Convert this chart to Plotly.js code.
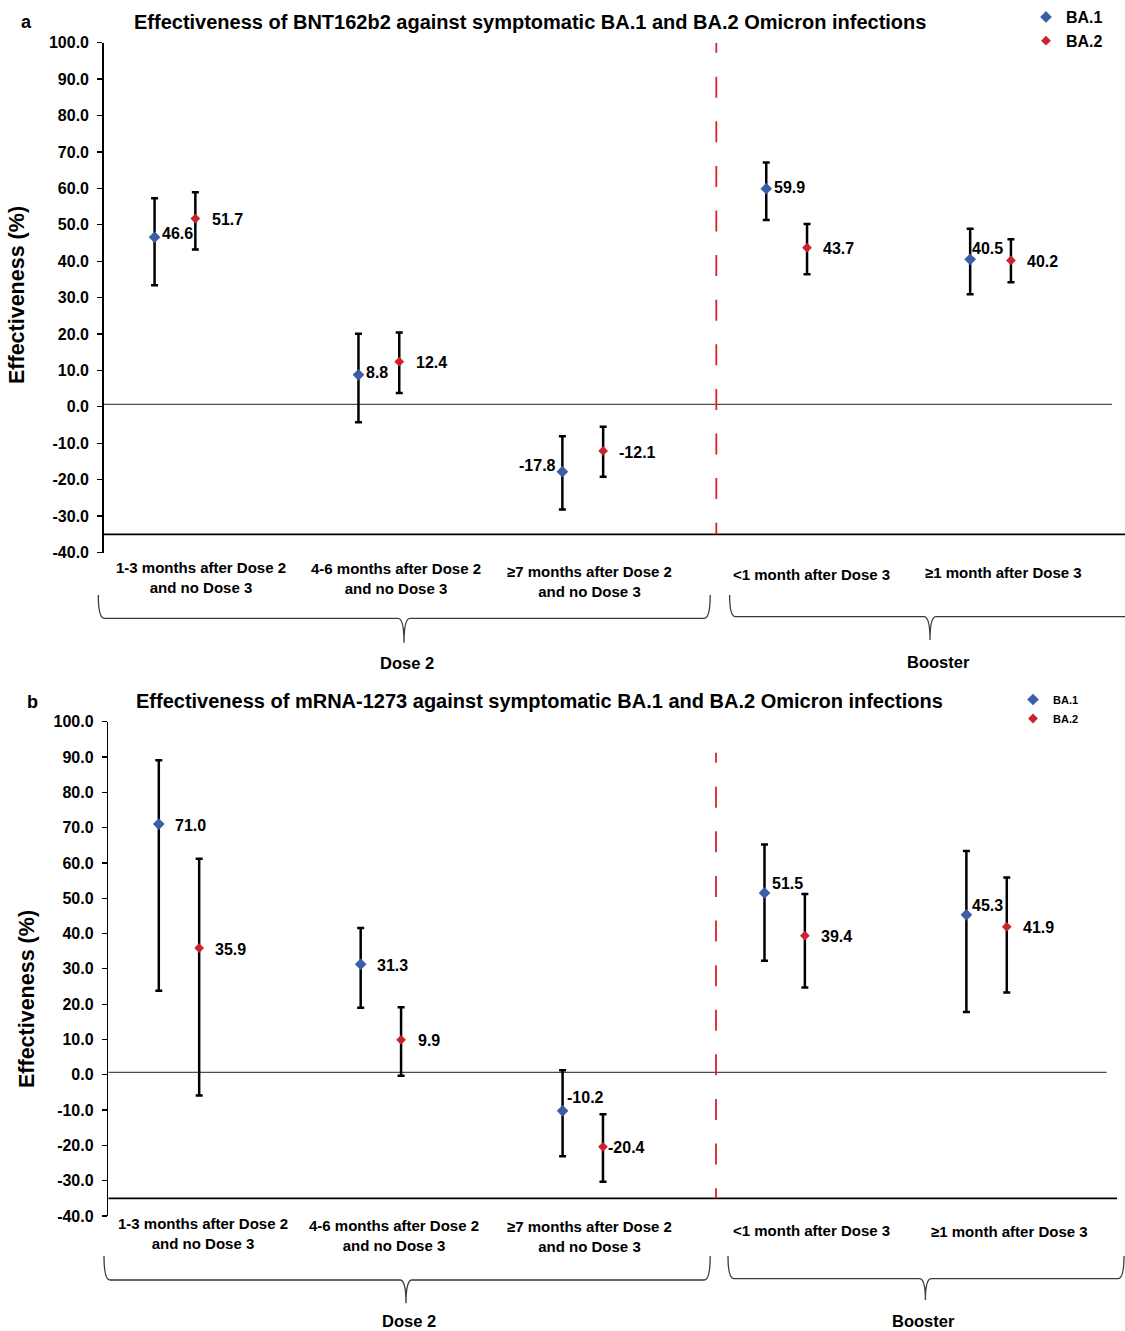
<!DOCTYPE html>
<html>
<head>
<meta charset="utf-8">
<script src="https://cdn.plot.ly/plotly-3.0.1.min.js"></script>
<style>html,body{margin:0;padding:0;background:#fff;}#chart{width:1125px;height:1331px;}</style>
</head>
<body>
<div id="chart"></div>
<script>
// ---------- data ----------
const categories = [
  '1-3 months after Dose 2<br>and no Dose 3',
  '4-6 months after Dose 2<br>and no Dose 3',
  '≥7 months after Dose 2<br>and no Dose 3',
  '&lt;1 month after Dose 3',
  '≥1 month after Dose 3'
];
const groupLabels = ['Dose 2', 'Booster'];
const seriesNames = ['BA.1', 'BA.2'];
const titleA = 'Effectiveness of BNT162b2 against symptomatic BA.1 and BA.2 Omicron infections';
const titleB = 'Effectiveness of mRNA-1273 against symptomatic BA.1 and BA.2 Omicron infections';
const yTitle = 'Effectiveness (%)';
const yTickVals = [-40, -30, -20, -10, 0, 10, 20, 30, 40, 50, 60, 70, 80, 90, 100];

// Panel a (BNT162b2)
const a_ba1 = [46.6, 8.8, -17.8, 59.9, 40.5];
const a_ba1_lo = [33.4, -4.2, -28.2, 51.3, 30.9];
const a_ba1_hi = [57.3, 20.1, -8.1, 67.1, 48.9];
const a_ba2 = [51.7, 12.4, -12.1, 43.7, 40.2];
const a_ba2_lo = [43.2, 3.8, -19.2, 36.4, 34.2];
const a_ba2_hi = [58.9, 20.4, -5.5, 50.2, 46.0];

// Panel b (mRNA-1273)
const b_ba1 = [71.0, 31.3, -10.2, 51.5, 45.3];
const b_ba1_lo = [23.8, 19.0, -23.1, 32.3, 17.8];
const b_ba1_hi = [89.1, 41.6, 1.3, 65.2, 63.4];
const b_ba2 = [35.9, 9.9, -20.4, 39.4, 41.9];
const b_ba2_lo = [-5.9, -0.3, -30.3, 24.7, 23.3];
const b_ba2_hi = [61.2, 19.1, -11.2, 51.2, 55.9];

// ---------- styling / layout constants ----------
const W = 1125, H = 1331;
const FONT = 'Liberation Sans, Arial, Helvetica, sans-serif';
const BLUE = '#3A5FA8', RED = '#CC2229';
const px = v => v / W;
const py = v => 1 - v / H;
const idx = categories.map((c, i) => i);
const OFF = 0.1;

function errY(val, lo, hi) {
  return {
    type: 'data', symmetric: false,
    array: hi.map((h, i) => +(h - val[i]).toFixed(2)),
    arrayminus: lo.map((l, i) => +(val[i] - l).toFixed(2)),
    color: '#000', thickness: 2.5, width: 3.5
  };
}
function trace(name, vals, lo, hi, shift, color, size, xa, ya, leg) {
  return {
    type: 'scatter', mode: 'markers', name: name,
    x: idx.map(i => i + shift), y: vals,
    xaxis: xa, yaxis: ya, legend: leg,
    marker: {symbol: 'diamond', size: size, color: color},
    error_y: errY(vals, lo, hi), cliponaxis: false, hoverinfo: 'skip'
  };
}
const data = [
  trace(seriesNames[0], a_ba1, a_ba1_lo, a_ba1_hi, -OFF, BLUE, 9, 'x', 'y', 'legend'),
  trace(seriesNames[1], a_ba2, a_ba2_lo, a_ba2_hi, OFF, RED, 7.5, 'x', 'y', 'legend'),
  trace(seriesNames[0], b_ba1, b_ba1_lo, b_ba1_hi, -OFF, BLUE, 9, 'x2', 'y2', 'legend2'),
  trace(seriesNames[1], b_ba2, b_ba2_lo, b_ba2_hi, OFF, RED, 7.5, 'x2', 'y2', 'legend2')
];

// label offsets (pixels): [dx, dy, anchor]
const offA1 = [[6,4,'left'],[7,2,'left'],[-5,6,'right'],[7,1,'left'],[1,11,'left']];
const offA2 = [[16,-1,'left'],[16,-1,'left'],[15,-2,'left'],[15,-1,'left'],[15,-1,'left']];
const offB1 = [[15,-1,'left'],[15,-1,'left'],[3,13,'left'],[7,9,'left'],[5,9,'left']];
const offB2 = [[15,-1,'left'],[16,-1,'left'],[4,-1,'left'],[15,-1,'left'],[15,-1,'left']];

const annotations = [];
function valueLabels(vals, shift, offs, xr, yr) {
  vals.forEach((v, i) => {
    const o = offs[i];
    annotations.push({
      x: i + shift, y: v, xref: xr, yref: yr, text: v.toFixed(1), showarrow: false,
      xanchor: o[2], yanchor: 'middle', xshift: o[2] === 'left' ? o[0] - 1 : o[0] + 1, yshift: o[1],
      font: {family: FONT, size: 16, color: '#000', weight: 'bold'}
    });
  });
}
valueLabels(a_ba1, -OFF, offA1, 'x', 'y');
valueLabels(a_ba2, OFF, offA2, 'x', 'y');
valueLabels(b_ba1, -OFF, offB1, 'x2', 'y2');
valueLabels(b_ba2, OFF, offB2, 'x2', 'y2');

// category labels
const catShiftA = [26, 17.5, 7, 25, 13.4], catYA = [577.7, 578.8, 581.2, 574.3, 572.7];
const catShiftB = [23.7, 13.6, 6.6, 27, 23.4], catYB = [1233.8, 1235.2, 1236.7, 1230, 1231];
categories.forEach((c, i) => {
  annotations.push({x: i, xref: 'x', xshift: catShiftA[i], y: py(catYA[i]), yref: 'paper', text: c,
    showarrow: false, xanchor: 'center', yanchor: 'middle', align: 'center',
    font: {family: FONT, size: 15, color: '#000', weight: 'bold'}});
  annotations.push({x: i, xref: 'x2', xshift: catShiftB[i], y: py(catYB[i]), yref: 'paper', text: c,
    showarrow: false, xanchor: 'center', yanchor: 'middle', align: 'center',
    font: {family: FONT, size: 15, color: '#000', weight: 'bold'}});
});

// group labels under braces
const grpPos = [[407, 663.3], [938, 662.3], [409, 1321], [923.3, 1321]];
grpPos.forEach((p, k) => {
  annotations.push({x: px(p[0]), y: py(p[1]), xref: 'paper', yref: 'paper', text: groupLabels[k % 2],
    showarrow: false, xanchor: 'center', yanchor: 'middle',
    font: {family: FONT, size: 16.5, color: '#000', weight: 'bold'}});
});

// titles, panel letters, y titles
[[titleA, 530, 22], [titleB, 539, 701]].forEach(t => annotations.push({
  x: px(t[1]), y: py(t[2]), xref: 'paper', yref: 'paper', text: t[0], showarrow: false,
  xanchor: 'center', yanchor: 'middle', font: {family: FONT, size: 20, color: '#000', weight: 'bold'}}));
[['a', 26.4, 21.7], ['b', 32.7, 701.7]].forEach(t => annotations.push({
  x: px(t[1]), y: py(t[2]), xref: 'paper', yref: 'paper', text: t[0], showarrow: false,
  xanchor: 'center', yanchor: 'middle', font: {family: FONT, size: 18, color: '#000', weight: 'bold'}}));
[[17, 295], [27, 999]].forEach(t => annotations.push({
  x: px(t[0]), y: py(t[1]), xref: 'paper', yref: 'paper', text: yTitle, showarrow: false, textangle: -90,
  xanchor: 'center', yanchor: 'middle', font: {family: FONT, size: 21.5, color: '#000', weight: 'bold'}}));

// ---------- shapes ----------
const xRangeA = [-0.3495, 4.6594], xRangeB = [-0.3501, 4.6856];
const dashPat = '10px,24px,21px,23.6px,21px,23.6px,21px,23.6px,21px,23.6px,21px,23.6px,21px,23.6px,21px,23.6px,21px,23.6px,21px,23.6px,21px,23.6px,21px,23.6px';
function brace(x0, x1, xt, yTop, yMid, yTip) {
  const r = 6;
  return 'M' + px(x0) + ',' + py(yTop) +
    ' Q' + px(x0) + ',' + py(yMid) + ' ' + px(x0 + r) + ',' + py(yMid) +
    ' L' + px(xt - r) + ',' + py(yMid) +
    ' Q' + px(xt) + ',' + py(yMid) + ' ' + px(xt) + ',' + py(yTip) +
    ' Q' + px(xt) + ',' + py(yMid) + ' ' + px(xt + r) + ',' + py(yMid) +
    ' L' + px(x1 - r) + ',' + py(yMid) +
    ' Q' + px(x1) + ',' + py(yMid) + ' ' + px(x1) + ',' + py(yTop);
}
const braceLine = {color: '#3a3a3a', width: 1.3};
const shapes = [
  // panel a
  {type: 'line', xref: 'x', yref: 'y', x0: xRangeA[0], x1: 4.595, y0: 0.7, y1: 0.7, line: {color: '#4d4d4d', width: 1.2}, layer: 'below'},
  {type: 'line', xref: 'x', yref: 'y', x0: xRangeA[0], x1: xRangeA[1], y0: -35, y1: -35, line: {color: '#000', width: 1.8}, layer: 'below'},
  {type: 'line', xref: 'x', yref: 'y', x0: 2.655, x1: 2.655, y0: 100, y1: -35, line: {color: '#D8232A', width: 1.8, dash: dashPat}, layer: 'below'},
  // panel b
  {type: 'line', xref: 'x2', yref: 'y2', x0: xRangeB[0], x1: 4.595, y0: 0.7, y1: 0.7, line: {color: '#4d4d4d', width: 1.2}, layer: 'below'},
  {type: 'line', xref: 'x2', yref: 'y2', x0: xRangeB[0], x1: 4.646, y0: -35, y1: -35, line: {color: '#000', width: 1.8}, layer: 'below'},
  {type: 'line', xref: 'x2', yref: 'y2', x0: 2.66, x1: 2.66, y0: 91.2, y1: -35, line: {color: '#D8232A', width: 1.8, dash: dashPat}, layer: 'below'},
  // braces
  {type: 'path', xref: 'paper', yref: 'paper', path: brace(98.3, 710.2, 404, 595, 618.3, 642.7), line: braceLine},
  {type: 'path', xref: 'paper', yref: 'paper', path: brace(729.6, 1135, 930, 595, 616.7, 640), line: braceLine},
  {type: 'path', xref: 'paper', yref: 'paper', path: brace(104, 710.2, 406, 1256, 1280, 1303.3), line: braceLine},
  {type: 'path', xref: 'paper', yref: 'paper', path: brace(728, 1124, 925.4, 1256, 1278.7, 1300), line: braceLine}
];

// ---------- axes ----------
function yAxis(domain, anchor) {
  return {
    domain: domain, anchor: anchor, range: [-40, 100], autorange: false,
    tickmode: 'array', tickvals: yTickVals, ticktext: yTickVals.map(v => v.toFixed(1)),
    ticks: 'outside', ticklen: 5, tickwidth: 1.3, tickcolor: '#000', ticklabelstandoff: 5,
    showline: true, linecolor: '#000', linewidth: 1.5, showgrid: false, zeroline: false,
    tickfont: {family: FONT, size: 16, color: '#000', weight: 'bold'}, fixedrange: true
  };
}
function xAxis(domain, range, anchor) {
  return {domain: domain, range: range, anchor: anchor, visible: false, showgrid: false, zeroline: false, fixedrange: true};
}

const layout = {
  width: W, height: H, margin: {l: 0, r: 0, t: 0, b: 0},
  paper_bgcolor: '#fff', plot_bgcolor: 'rgba(0,0,0,0)',
  font: {family: FONT, color: '#000'},
  xaxis: xAxis([px(103.7), 1], xRangeA, 'y'),
  yaxis: yAxis([py(552.5), py(42.7)], 'x'),
  xaxis2: xAxis([px(108.3), 1], xRangeB, 'y2'),
  yaxis2: yAxis([py(1216), py(721.7)], 'x2'),
  showlegend: true,
  legend: {x: px(1026), y: py(0), xanchor: 'left', yanchor: 'top', bgcolor: 'rgba(0,0,0,0)',
    font: {family: FONT, size: 16, color: '#000', weight: 'bold'}},
  legend2: {x: px(1013), y: py(685), xanchor: 'left', yanchor: 'top', bgcolor: 'rgba(0,0,0,0)',
    itemwidth: 30, font: {family: FONT, size: 11, color: '#000', weight: 'bold'}},
  annotations: annotations,
  shapes: shapes
};

Plotly.newPlot('chart', data, layout, {displayModeBar: false, staticPlot: true});
</script>
</body>
</html>
